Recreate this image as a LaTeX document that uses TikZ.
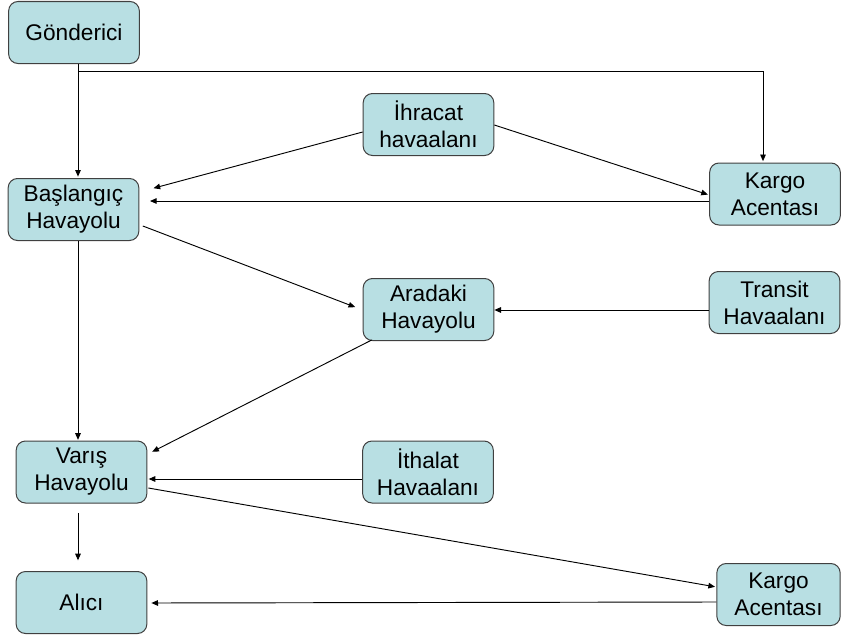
\documentclass[tikz,border=0pt]{standalone}
\usepackage{fontspec}
\setmainfont{Liberation Sans}
\usetikzlibrary{arrows.meta,calc}
\definecolor{boxfill}{RGB}{184,223,227}
\definecolor{boxline}{RGB}{64,64,64}
\begin{document}
\begin{tikzpicture}[x=0.75pt,y=-0.75pt,
  box/.style={draw=boxline,fill=boxfill,line width=0.75pt,rounded corners=7pt,
    minimum width=98pt,minimum height=46.5pt,inner sep=0pt,align=center,
    font=\fontsize{17}{20.3}\selectfont},
  conn/.style={draw=black,line width=0.7pt,-{Triangle[length=5pt,width=4.2pt]}}]
\useasboundingbox (0,0) rectangle (842,639);
\node[box] (gon) at (74,32.5) {Gönderici};
\node[box] (ihr) at (428.5,124.5) {İhracat\\havaalanı};
\node[box] (kar1) at (775,194) {Kargo\\Acentası};
\node[box] (bas) at (73.5,209.5) {Başlangıç\\Havayolu};
\node[box] (ara) at (428.5,309.5) {Aradaki\\Havayolu};
\node[box] (tra) at (774.5,302.5) {Transit\\Havaalanı};
\node[box] (var) at (81.5,472) {Varış\\Havayolu};
\node[box] (ith) at (428,472) {İthalat\\Havaalanı};
\node[box,minimum width=92.5pt] (kar2) at (778.5,594.5) {Kargo\\Acentası};
\node[box] (ali) at (81.5,602.5) {Alıcı};
% helper coordinates
\coordinate (cx) at (78,0);
\coordinate (cy) at (763,0);
\coordinate (j1) at (78,71);
% Gönderici -> Başlangıç
\draw[conn,shorten >=1pt] (gon.south -| cx) -- (bas.north -| cx);
% Gönderici -> Kargo (top)
\draw[conn,shorten >=1pt] (j1) -| (kar1.north -| cy);
% İhracat -> Başlangıç
\draw[conn,shorten >=11pt] ($(ihr.west)+(0,7.5)$) -- ($(bas.east)+(0,-17.5)$);
% Kargo -> Başlangıç
\draw[conn,shorten >=8pt] ($(kar1.west)+(0,7)$) -- ($(bas.east)+(0,-8.5)$);
% İhracat -> Kargo
\draw[conn,shorten >=1pt] ($(ihr.east)+(0,0.5)$) -- ($(kar1.west)+(0,1)$);
% Başlangıç -> Aradaki
\draw[conn,shorten >=6pt] ($(bas.east)+(3.5,16.5)$) -- ($(ara.west)+(0,0.5)$);
% Transit -> Aradaki
\draw[conn] ($(tra.west)+(0,7.5)$) -- ($(ara.east)+(0,0.5)$);
% Başlangıç -> Varış
\draw[conn,shorten >=0.5pt] (bas.south -| cx) -- (var.north -| cx);
% Aradaki -> Varış
\draw[conn,shorten >=2pt] ($(ara.south west)+(9,-1)$) -- ($(var.east)+(2.5,-19)$);
% İthalat -> Varış
\draw[conn,shorten >=1pt] ($(ith.west)+(0,7)$) -- ($(var.east)+(0,7)$);
% Varış -> Kargo (bottom)
\draw[conn,shorten >=1pt] ($(var.east)+(1,16)$) -- ($(kar2.west)+(0,-7.5)$);
% Varış -> Alıcı
\draw[conn,shorten <=7pt,shorten >=8pt] (var.south -| cx) -- (ali.north -| cx);
% Kargo (bottom) -> Alıcı
\draw[conn,shorten >=3pt] ($(kar2.west)+(0,7.5)$) -- ($(ali.east)+(0,0.5)$);
\end{tikzpicture}
\end{document}
